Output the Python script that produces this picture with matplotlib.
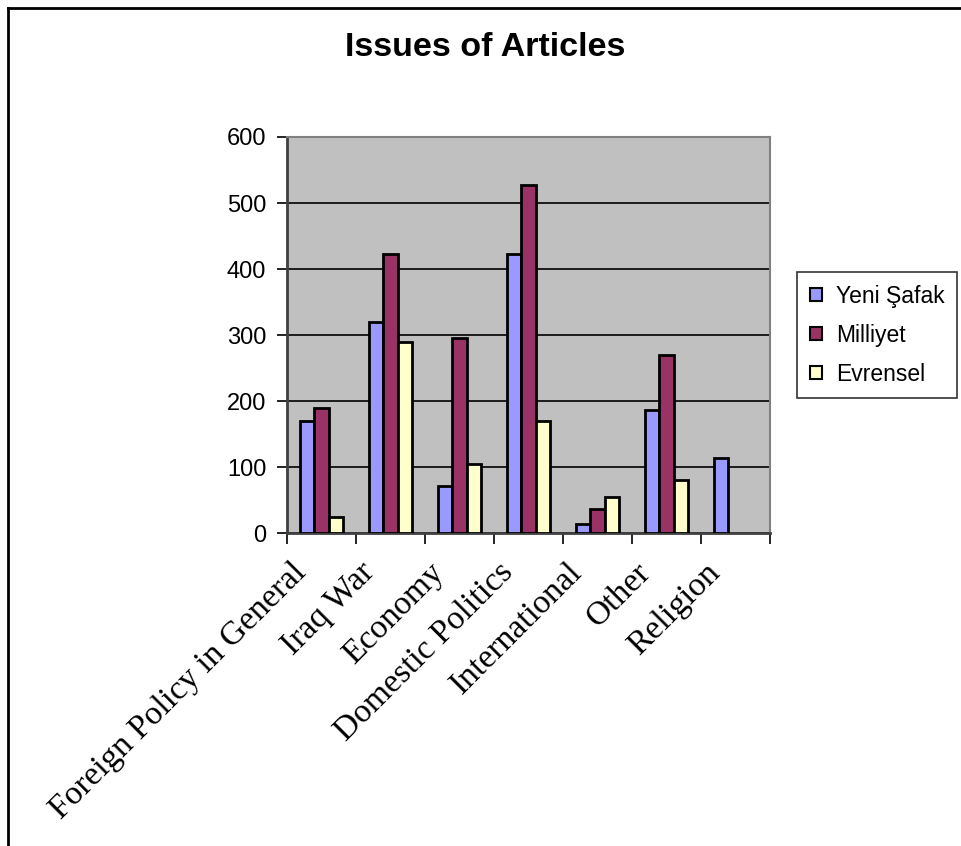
import matplotlib
matplotlib.use("Agg")
import matplotlib.pyplot as plt
import matplotlib.transforms as mtransforms
import numpy as np
from matplotlib.lines import Line2D

categories = ["Foreign Policy in General", "Iraq War", "Economy", "Domestic Politics",
              "International", "Other", "Religion"]
yeni_safak = [169, 319, 71, 423, 13, 186, 114]
milliyet = [189, 423, 296, 528, 36, 270, 0]
evrensel = [25, 290, 104, 169, 55, 81, 0]
series_names = ["Yeni Şafak", "Milliyet", "Evrensel"]
colors = ["#9999FF", "#993366", "#FFFFCC"]
yticks = [0, 100, 200, 300, 400, 500, 600]

fig = plt.figure(figsize=(9.62, 8.46), dpi=100)
ax = fig.add_axes([287/962, 1-533/846, (770-287)/962, (533-137)/846])
ax.set_facecolor("#C0C0C0")

x = np.arange(len(categories))
w = 0.205
for i, (vals, name, c) in enumerate(zip([yeni_safak, milliyet, evrensel], series_names, colors)):
    v = np.array(vals, dtype=float)
    xs = x + (i - 1) * w
    mask = v > 0
    ax.bar(xs[mask], v[mask], width=w, color=c, edgecolor="black", linewidth=2, zorder=3,
           label=name)

ax.set_xlim(-0.5, len(categories) - 0.5)
ax.set_ylim(0, 600)
ax.set_yticks(yticks)
ax.set_yticklabels([str(t) for t in yticks], fontsize=17, family="Liberation Sans")
ax.yaxis.grid(True, color="black", linewidth=1.2, zorder=1)
ax.set_axisbelow(True)

ax.set_xticks(np.arange(len(categories) + 1) - 0.5)
ax.set_xticklabels([])
offset = mtransforms.ScaledTranslation(-31/100, -24/100, fig.dpi_scale_trans)
for xi, cat in zip(x, categories):
    ax.text(xi, 0, cat, transform=ax.get_xaxis_transform() + offset,
            rotation=45, ha="right", va="top", rotation_mode="anchor",
            fontsize=24.2, family="Liberation Serif", clip_on=False)
ax.tick_params(axis="x", which="major", length=8, width=1.2, direction="out", color="black")
ax.tick_params(axis="y", length=7, width=1.2, direction="out", pad=8, color="black")

for s in ["top", "right"]:
    ax.spines[s].set_color("#808080")
    ax.spines[s].set_linewidth(1.5)
ax.spines["left"].set_color("#404040")
ax.spines["left"].set_linewidth(2)
ax.spines["bottom"].set_color("#404040")
ax.spines["bottom"].set_linewidth(2)

fig.text(485/962, 1-48/846, "Issues of Articles", ha="center", va="center",
         fontsize=24.5, fontweight="bold", family="Liberation Sans")

leg = fig.legend(loc="upper left", bbox_to_anchor=(797/962, 1-272/846), frameon=True,
                 fancybox=False, prop={"family": "Liberation Sans", "size": 16.5},
                 handlelength=0.55, handleheight=0.55, handletextpad=0.6,
                 labelspacing=0.7, borderpad=0.55, borderaxespad=0)
leg.get_frame().set_edgecolor("black")
leg.get_frame().set_linewidth(1.2)
for h in leg.legend_handles:
    h.set_linewidth(1.5)

fig.add_artist(Line2D([8/962, 8/962], [0, 1-8/846], color="black", linewidth=2,
                      transform=fig.transFigure))
fig.add_artist(Line2D([8/962, 1], [1-8/846, 1-8/846], color="black", linewidth=2,
                      transform=fig.transFigure))

fig.savefig("out.png", dpi=100)
